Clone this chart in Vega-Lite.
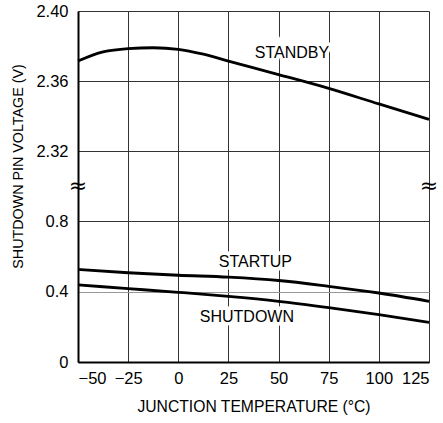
{
  "$schema": "https://vega.github.io/schema/vega-lite/v6.json",
  "width": 351,
  "height": 351,
  "autosize": {"type": "none"},
  "padding": {"left": 78, "top": 11, "right": 14, "bottom": 61},
  "background": "white",
  "config": {
    "view": {"stroke": null},
    "font": "Liberation Sans, sans-serif",
    "axis": {
      "labelFont": "Liberation Sans, sans-serif",
      "titleFont": "Liberation Sans, sans-serif",
      "labelColor": "#000",
      "titleColor": "#000",
      "labelFontSize": 16.5,
      "titleFontWeight": "normal",
      "ticks": false,
      "domainColor": "#000",
      "domainWidth": 2,
      "gridWidth": 1
    }
  },
  "datasets": {
    "curves": [
      {"t": -50, "v": 2.3714, "curve": "STANDBY"},
      {"t": -37.5, "v": 2.3766, "curve": "STANDBY"},
      {"t": -25, "v": 2.3785, "curve": "STANDBY"},
      {"t": -12.5, "v": 2.379, "curve": "STANDBY"},
      {"t": 0, "v": 2.3781, "curve": "STANDBY"},
      {"t": 12.5, "v": 2.3753, "curve": "STANDBY"},
      {"t": 25, "v": 2.3714, "curve": "STANDBY"},
      {"t": 50, "v": 2.3637, "curve": "STANDBY"},
      {"t": 75, "v": 2.3558, "curve": "STANDBY"},
      {"t": 100, "v": 2.3469, "curve": "STANDBY"},
      {"t": 125, "v": 2.3381, "curve": "STANDBY"},
      {"t": -50, "v": 0.526, "curve": "STARTUP"},
      {"t": -25, "v": 0.507, "curve": "STARTUP"},
      {"t": 0, "v": 0.493, "curve": "STARTUP"},
      {"t": 25, "v": 0.482, "curve": "STARTUP"},
      {"t": 50, "v": 0.463, "curve": "STARTUP"},
      {"t": 75, "v": 0.43, "curve": "STARTUP"},
      {"t": 100, "v": 0.392, "curve": "STARTUP"},
      {"t": 125, "v": 0.345, "curve": "STARTUP"},
      {"t": -50, "v": 0.438, "curve": "SHUTDOWN"},
      {"t": -25, "v": 0.417, "curve": "SHUTDOWN"},
      {"t": 0, "v": 0.396, "curve": "SHUTDOWN"},
      {"t": 25, "v": 0.373, "curve": "SHUTDOWN"},
      {"t": 50, "v": 0.345, "curve": "SHUTDOWN"},
      {"t": 75, "v": 0.309, "curve": "SHUTDOWN"},
      {"t": 100, "v": 0.269, "curve": "SHUTDOWN"},
      {"t": 125, "v": 0.225, "curve": "SHUTDOWN"}
    ],
    "labels": [
      {"t": 56.7, "v": 2.3762, "label": "STANDBY"},
      {"t": 38.4, "v": 0.571, "label": "STARTUP"},
      {"t": 34.2, "v": 0.257, "label": "SHUTDOWN"}
    ],
    "breaks": [
      {"t": -50, "v": 1.0, "mark": "≈"},
      {"t": 125, "v": 1.0, "mark": "≈"}
    ]
  },
  "layer": [
    {
      "data": {"name": "curves"},
      "mark": {"type": "line", "color": "#000", "strokeWidth": 2.8, "interpolate": "monotone"},
      "encoding": {
        "x": {
          "field": "t",
          "type": "quantitative",
          "scale": {"domain": [-50, 125], "nice": false, "zero": false},
          "axis": {
            "values": [-50, -25, 0, 25, 50, 75, 100, 125],
            "grid": true,
            "gridColor": "#333",
            "labelPadding": 8,
            "title": "JUNCTION TEMPERATURE (°C)",
            "titleFontSize": 15.7,
            "titlePadding": 13
          }
        },
        "y": {
          "field": "v",
          "type": "quantitative",
          "scale": {"domain": [0, 1.0, 2.3, 2.4], "range": [351, 175, 175, 0], "nice": false, "zero": false},
          "axis": {
            "values": [0, 0.4, 0.8, 2.32, 2.36, 2.4],
            "labelExpr": "datum.value == 0 ? '0' : datum.value < 1 ? format(datum.value, '.1f') : format(datum.value, '.2f')",
            "grid": true,
            "gridColor": {"condition": {"test": "datum.value == 0.4", "value": "#999"}, "value": "#333"},
            "labelPadding": 10,
            "title": "SHUTDOWN PIN VOLTAGE (V)",
            "titleFontSize": 14.3,
            "titlePadding": 10,
            "titleY": 155
          }
        },
        "detail": {"field": "curve"}
      }
    },
    {
      "data": {"name": "labels"},
      "mark": {"type": "text", "stroke": "white", "strokeWidth": 7, "fill": "white", "fontSize": 16, "align": "center", "baseline": "middle"},
      "encoding": {
        "x": {"field": "t", "type": "quantitative"},
        "y": {"field": "v", "type": "quantitative"},
        "text": {"field": "label"}
      }
    },
    {
      "data": {"name": "labels"},
      "mark": {"type": "text", "color": "#000", "fontSize": 16, "align": "center", "baseline": "middle"},
      "encoding": {
        "x": {"field": "t", "type": "quantitative"},
        "y": {"field": "v", "type": "quantitative"},
        "text": {"field": "label"}
      }
    },
    {
      "mark": {"type": "rule", "color": "#000", "strokeWidth": 2},
      "encoding": {"x": {"datum": 125, "type": "quantitative"}}
    },
    {
      "data": {"name": "breaks"},
      "mark": {"type": "text", "color": "#000", "fontSize": 22, "align": "center", "baseline": "middle", "font": "DejaVu Sans"},
      "encoding": {
        "x": {"field": "t", "type": "quantitative"},
        "y": {"field": "v", "type": "quantitative"},
        "text": {"field": "mark"}
      }
    }
  ]
}
